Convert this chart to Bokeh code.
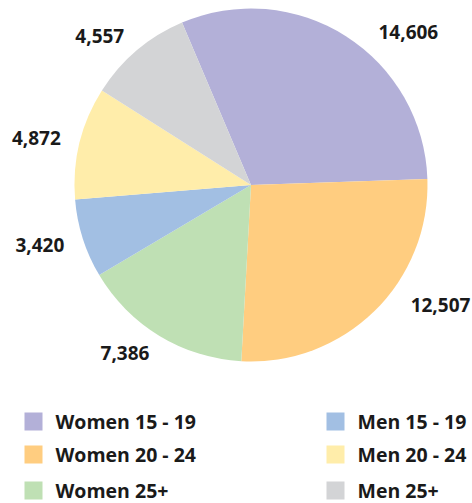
import math
from bokeh.plotting import figure
from bokeh.models import Range1d, ColumnDataSource
from bokeh.core.properties import value
from bokeh.embed import file_html
from bokeh.resources import INLINE

categories = ["Women 15 - 19", "Women 20 - 24", "Women 25+", "Men 15 - 19", "Men 20 - 24", "Men 25+"]
values = [14606, 12507, 7386, 3420, 4872, 4557]
colors = ["#b3b0d8", "#ffcd80", "#bfe0b4", "#a2bfe3", "#ffedaa", "#d3d4d6"]
legend_order = ["Women 15 - 19", "Men 15 - 19", "Women 20 - 24", "Men 20 - 24", "Women 25+", "Men 25+"]

W, H = 472, 503
cx, cy, R = 250.5, H - 184.5, 176.5
start_cw = -23.0  # clockwise degrees from top

p = figure(width=W, height=H, output_backend="svg", toolbar_location=None,
           x_range=Range1d(0, W), y_range=Range1d(0, H), min_border=0)
p.axis.visible = False
p.grid.visible = False
p.outline_line_color = None
p.border_fill_color = "white"

total = sum(values)
starts, ends, lx, ly, la, labels = [], [], [], [], [], []
acc = start_cw
for v in values:
    span = 360.0 * v / total
    a0, a1 = acc, acc + span
    starts.append(math.radians(90 - a0))
    ends.append(math.radians(90 - a1))
    mid = (a0 + a1) / 2
    if math.sin(math.radians(mid)) >= 0:
        m = 90 + (mid - 90) * 0.845 - 1.7
        rr = R * 1.13
        la.append("left")
    else:
        m = mid
        rr = R * 1.11
        la.append("right")
    lx.append(cx + rr * math.sin(math.radians(m)))
    ly.append(cy + rr * math.cos(math.radians(m)))
    labels.append(f"{v:,}")
    acc = a1

src = ColumnDataSource(dict(start=starts, end=ends, color=colors))
p.wedge(x=cx, y=cy, radius=R, start_angle="start", end_angle="end", direction="clock",
        fill_color="color", line_color=None, source=src)

lsrc = ColumnDataSource(dict(x=lx, y=ly, t=labels, a=la))
p.text(x="x", y="y", text="t", text_align="a", text_baseline="middle",
       text_font=value("Open Sans"), text_font_style="bold", text_font_size="19px",
       text_color="#1a1a1a", source=lsrc)

# legend
row_y = [H - 421, H - 454, H - 490]
col_x = [24, 326]
sq_x, sq_y, sq_c, tx, ty, tt = [], [], [], [], [], []
for i, name in enumerate(legend_order):
    r, c = i // 2, i % 2
    sq_x.append(col_x[c] + 9); sq_y.append(row_y[r])
    sq_c.append(colors[categories.index(name)])
    tx.append(col_x[c] + 31); ty.append(row_y[r]); tt.append(name)
p.rect(x=sq_x, y=sq_y, width=18, height=18, fill_color=sq_c, line_color=None)
p.text(x=tx, y=ty, text=tt, text_align="left", text_baseline="middle",
       text_font=value("Open Sans"), text_font_style="bold", text_font_size="19.5px",
       text_color="#1a1a1a")

open("out.html", "w").write(file_html(p, INLINE))
